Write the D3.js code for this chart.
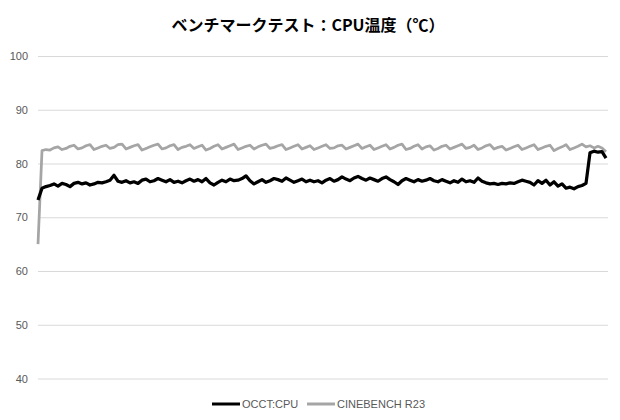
<!DOCTYPE html>
<html>
<head>
<meta charset="utf-8">
<script src="https://cdn.jsdelivr.net/npm/d3@7"></script>
<style>
  body { margin: 0; background: #fff; }
  svg { display: block; font-family: 'Noto Sans CJK JP', 'Noto Sans', sans-serif; }
</style>
</head>
<body>
<svg id="chart" width="620" height="420"></svg>
<script>
var title = 'ベンチマークテスト：CPU温度（℃）';
var seriesNames = ['OCCT:CPU', 'CINEBENCH R23'];
var seriesColors = ['#000000', '#a5a5a5'];
var yTicks = [40, 50, 60, 70, 80, 90, 100];

// OCCT:CPU temperature samples
var occt = [
    73.2, 75.4, 75.7, 75.9, 76.2, 75.8, 76.3, 76.1, 75.7, 76.3,
    76.5, 76.2, 76.4, 76.0, 76.2, 76.5, 76.4, 76.6, 76.9, 77.8,
    76.7, 76.5, 76.8, 76.4, 76.6, 76.3, 76.9, 77.1, 76.6, 76.8,
    77.2, 76.9, 76.6, 77.0, 76.5, 76.7, 76.4, 76.8, 77.1, 76.7,
    77.0, 76.6, 77.2, 76.4, 76.0, 76.5, 76.9, 76.6, 77.1, 76.8,
    76.9, 77.2, 77.7, 76.8, 76.2, 76.6, 77.0, 76.5, 76.8, 77.2,
    77.0, 76.7, 77.3, 76.9, 76.5, 76.8, 77.1, 76.6, 76.9, 76.6,
    76.8, 76.4, 76.9, 77.2, 76.7, 77.0, 77.5, 77.1, 76.8, 77.3,
    77.6, 77.2, 76.9, 77.3, 77.0, 76.7, 77.2, 77.5, 77.0, 76.6,
    76.1, 76.8, 77.2, 76.9, 76.6, 77.0, 76.7, 76.9, 77.2, 76.8,
    76.6, 77.0, 76.7, 76.4, 76.8, 76.5, 77.1, 76.6, 76.8, 76.5,
    77.3, 76.7, 76.4, 76.2, 76.3, 76.1, 76.3, 76.2, 76.4, 76.3,
    76.6, 76.9, 76.7, 76.5, 76.0, 76.8, 76.3, 76.9, 76.0, 76.6,
    75.8, 76.2, 75.4, 75.6, 75.3, 75.7, 75.9, 76.3, 82.0, 82.3,
    82.1, 82.2, 81.0
];

// CINEBENCH R23 temperature samples
var cinebench = [
    65.0, 82.4, 82.6, 82.5, 82.9, 83.1, 82.6, 82.8, 83.2, 83.4,
    82.7, 82.9, 83.3, 83.5, 82.6, 82.9, 83.2, 83.4, 82.8, 83.0,
    83.5, 83.6, 82.7, 83.0, 83.3, 83.5, 82.5, 82.8, 83.1, 83.4,
    83.6, 82.7, 82.9, 83.3, 83.5, 82.6, 83.0, 83.2, 83.5, 82.8,
    83.1, 83.4, 82.5, 82.8, 83.2, 83.5, 82.7, 83.0, 83.3, 83.6,
    82.6, 82.9, 83.2, 83.4, 82.7, 83.1, 83.4, 83.6, 82.8, 83.0,
    83.3, 83.5, 82.6, 82.9, 83.2, 83.5, 82.7, 83.0, 83.3, 82.6,
    82.9, 83.2, 83.5, 82.8, 82.9, 83.3, 83.4, 82.7, 83.0, 83.3,
    83.6, 82.8, 83.1, 83.4, 82.6, 82.9, 83.2, 83.5, 82.7, 83.0,
    83.4, 83.6, 82.6, 82.8, 83.2, 83.5, 82.7, 83.1, 83.3, 82.5,
    82.8, 83.2, 83.4, 82.7, 83.0, 83.3, 83.6, 82.8, 83.0, 83.4,
    82.6, 82.9, 83.3, 83.5, 82.7, 83.0, 83.2, 82.5, 82.8, 83.1,
    83.4, 82.6, 82.9, 83.2, 83.5, 82.6, 82.9, 83.2, 83.4, 82.4,
    82.8, 83.1, 83.5, 82.6, 82.9, 83.2, 83.6, 83.1, 83.3, 82.9,
    83.2, 82.9, 82.2
];

var margin = { top: 56, right: 12, bottom: 41.5, left: 38 };
var width = 620 - margin.left - margin.right;
var height = 420 - margin.top - margin.bottom;

var svg = d3.select('#chart');

svg.append('text')
    .attr('x', 308)
    .attr('y', 31)
    .attr('text-anchor', 'middle')
    .attr('font-size', 16)
    .attr('font-weight', 'bold')
    .attr('fill', '#000')
    .text(title);

var g = svg.append('g')
    .attr('transform', 'translate(' + margin.left + ',' + margin.top + ')');

var x = d3.scaleLinear().domain([0, occt.length - 1]).range([0, width - 2]);
var y = d3.scaleLinear().domain([40, 100]).range([height, 0]);

// gridlines + labels
var yAxis = g.append('g')
    .call(d3.axisLeft(y).tickValues(yTicks).tickSize(-width).tickPadding(10));
yAxis.select('.domain').remove();
yAxis.selectAll('.tick line').attr('stroke', '#d9d9d9').attr('stroke-width', 1);
yAxis.selectAll('.tick text')
    .attr('fill', '#595959')
    .attr('font-size', 11)
    .attr('font-family', "'Liberation Sans', 'Noto Sans', sans-serif");

var line = d3.line()
    .x(function(d, i) { return x(i); })
    .y(function(d) { return y(d); });

var series = [cinebench, occt];
var colors = [seriesColors[1], seriesColors[0]];
var widths = [2.75, 3.25];
series.forEach(function(data, k) {
    g.append('path')
        .datum(data)
        .attr('fill', 'none')
        .attr('stroke', colors[k])
        .attr('stroke-width', widths[k])
        .attr('stroke-linejoin', 'round')
        .attr('d', line);
});

// legend
var legendX = [212, 307];
var legend = svg.append('g').attr('transform', 'translate(0,404)');
seriesNames.forEach(function(name, i) {
    legend.append('line')
        .attr('x1', legendX[i])
        .attr('x2', legendX[i] + 28)
        .attr('y1', 0)
        .attr('y2', 0)
        .attr('stroke', seriesColors[i])
        .attr('stroke-width', 3);
    legend.append('text')
        .attr('x', legendX[i] + 30)
        .attr('y', 4)
        .attr('font-size', 11)
        .attr('fill', '#595959')
        .attr('font-family', "'Liberation Sans', 'Noto Sans', sans-serif")
        .text(name);
});
</script>
</body>
</html>
